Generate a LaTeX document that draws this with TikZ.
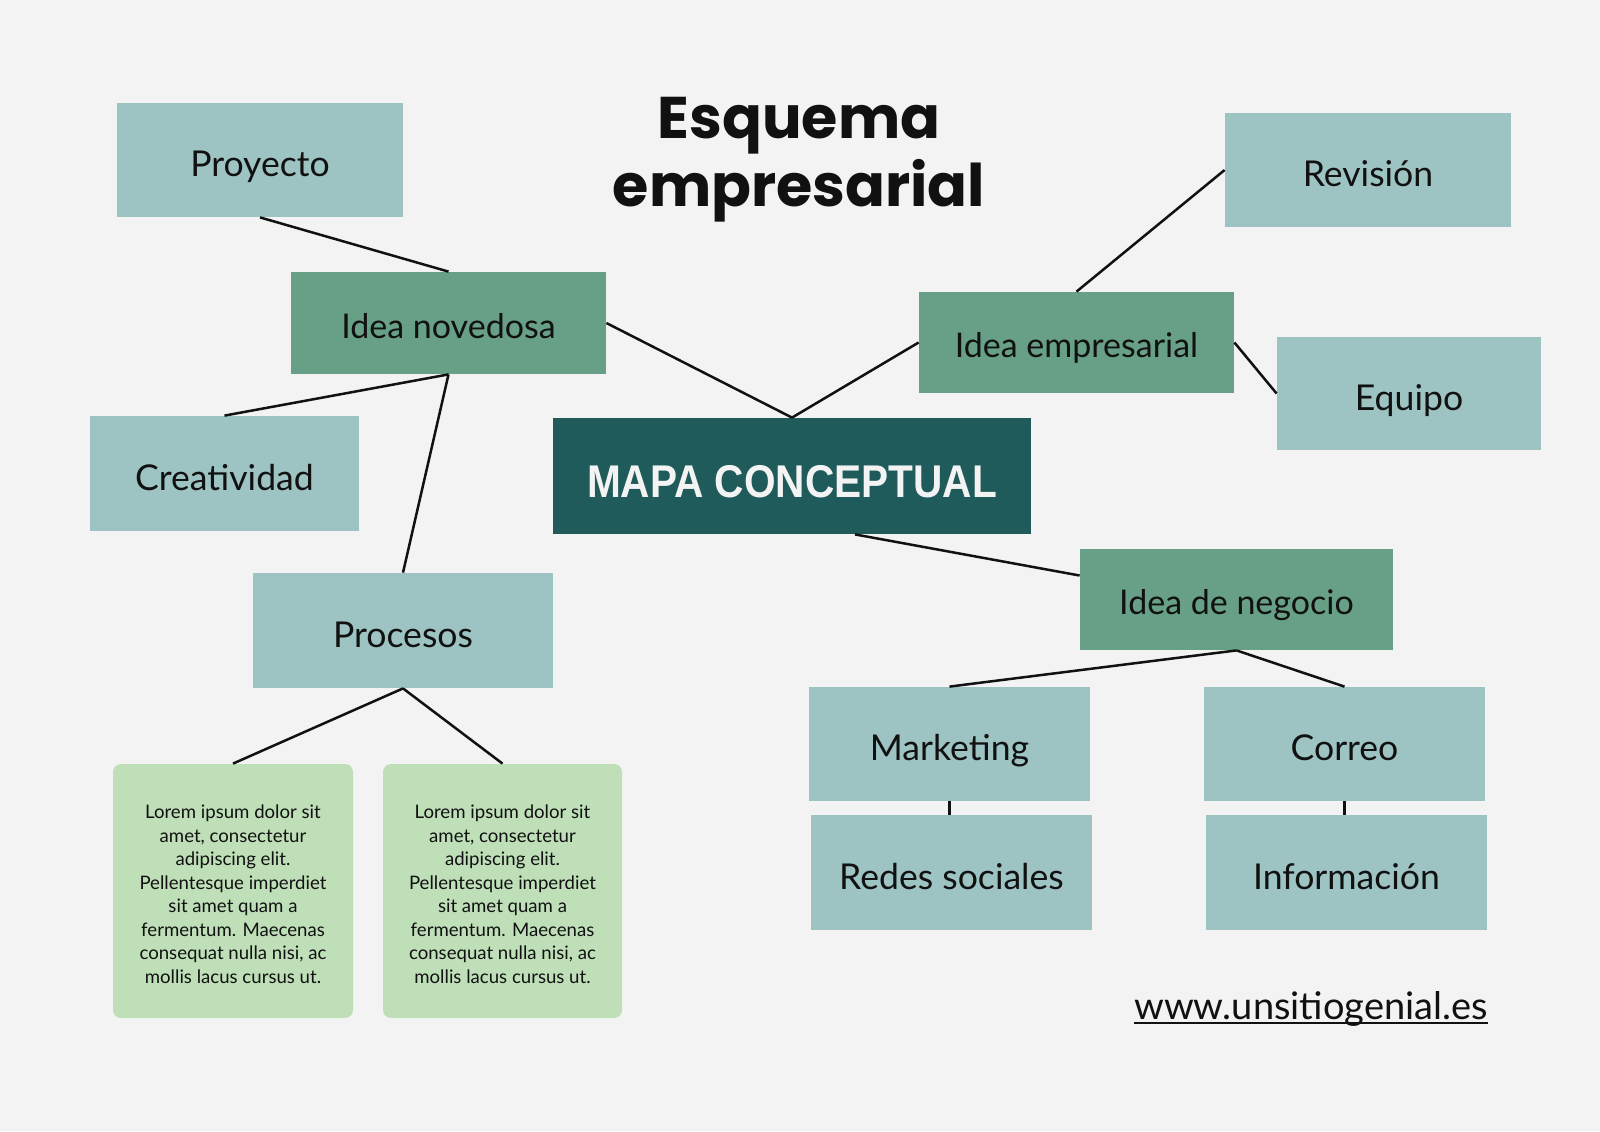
\documentclass[tikz,border=0pt]{standalone}
\usepackage{fontspec}
\usepackage{graphicx}
\setmainfont{Lato}
\newfontfamily\titlefont{Poppins}
\newfontfamily\boldsans{Liberation Sans}
\usetikzlibrary{calc}
\definecolor{bgc}{HTML}{F3F3F3}
\definecolor{lightteal}{HTML}{9DC4C3}
\definecolor{midgreen}{HTML}{67A086}
\definecolor{darkteal}{HTML}{205B5B}
\definecolor{loremgreen}{HTML}{BEDFB8}
\definecolor{ink}{HTML}{111111}
% place text so that its cap middle sits #1 below the node centre
\newcommand\capmid[2]{\raisebox{\dimexpr-0.358em-#1\relax}[0pt][0pt]{#2}}
\newcommand\lt[1]{\capmid{2pt}{#1}}
\newcommand\gt[1]{\capmid{1.5pt}{#1}}
\tikzset{
  lb/.style={fill=lightteal, draw=none, text=ink, inner sep=0pt, font=\fontsize{17.8}{20}\selectfont, minimum width=143pt, minimum height=57pt},
  gb/.style={fill=midgreen, draw=none, text=ink, inner sep=0pt, font=\fontsize{17}{19}\selectfont, minimum width=157.5pt, minimum height=51pt},
  lorem/.style={fill=loremgreen, draw=none, text=ink, rounded corners=4pt, inner sep=0pt, align=center, font=\fontsize{9.3}{11.75}\selectfont, minimum width=120pt, minimum height=127pt},
  conn/.style={draw=ink, line width=1.25pt}
}
\begin{document}
\begin{tikzpicture}[x=0.5pt,y=-0.5pt]
\fill[bgc] (0,0) rectangle (1600,1131);
\useasboundingbox (0,0) rectangle (1600,1131);

\node[text=ink, align=center, font=\titlefont\bfseries\fontsize{29.4}{34}\selectfont] (title) at (799,160) {Esquema\\empresarial};

\node[lb] (proyecto) at (260,160) {\lt{Proyecto}};
\node[gb] (novedosa) at (448.5,323) {\gt{Idea novedosa}};
\node[lb, minimum width=134.5pt, minimum height=57.5pt] (creatividad) at (224.5,473.5) {\lt{Creatividad}};
\node[lb, minimum width=150pt, minimum height=57.5pt] (procesos) at (403,630.5) {\lt{Procesos}};
\node[lorem] (lorem1) at (233,891) {\raisebox{-3.8pt}[0pt][0pt]{\parbox[c]{120pt}{\centering Lorem ipsum dolor sit\\amet, consectetur\\adipiscing elit.\\Pellentesque imperdiet\\sit amet quam a\\fermentum. Maecenas\\consequat nulla nisi, ac\\mollis lacus cursus ut.}}};
\node[lorem, minimum width=119.5pt] (lorem2) at (502.5,891) {\raisebox{-3.8pt}[0pt][0pt]{\parbox[c]{119.5pt}{\centering Lorem ipsum dolor sit\\amet, consectetur\\adipiscing elit.\\Pellentesque imperdiet\\sit amet quam a\\fermentum. Maecenas\\consequat nulla nisi, ac\\mollis lacus cursus ut.}}};

\node[fill=darkteal, text=bgc, inner sep=0pt, minimum width=239pt, minimum height=58pt, font=\boldsans\bfseries\fontsize{20.3}{24}\selectfont] (mapa) at (792,476) {\raisebox{-10.5pt}[0pt][0pt]{\scalebox{1}[1.13]{MAPA CONCEPTUAL}}};

\node[gb, minimum height=50.5pt] (empresarial) at (1076.5,342.5) {\gt{Idea empresarial}};
\node[lb] (revision) at (1368,170) {\lt{Revisión}};
\node[lb, minimum width=132pt, minimum height=56.5pt] (equipo) at (1409,393.5) {\lt{Equipo}};
\node[gb, minimum width=156.5pt, minimum height=50.5pt] (negocio) at (1236.5,599.5) {\gt{Idea de negocio}};
\node[lb, minimum width=140.5pt] (marketing) at (949.5,744) {\lt{Marketing}};
\node[lb, minimum width=140.5pt, minimum height=57.5pt] (redes) at (951.5,872.5) {\lt{Redes sociales}};
\node[lb, minimum width=140.5pt] (correo) at (1344.5,744) {\lt{Correo}};
\node[lb, minimum width=140.5pt, minimum height=57.5pt] (informacion) at (1346.5,872.5) {\lt{Información}};

\node[text=ink, inner sep=0pt, anchor=base, font=\fontsize{19}{22}\selectfont] (url) at (1311,1019) {www.unsitiogenial.es};
\coordinate (ulA) at ($(url.base west)+(0,4)$);
\coordinate (ulB) at ($(url.base east)+(0,4)$);
\draw[ink, line width=1pt] (ulA) -- (ulB);

\coordinate (mapaout) at ($(mapa.south)+(63,0)$);
\coordinate (negin) at ($(negocio.west)+(0,-24)$);

\draw[conn] (proyecto.south) -- (novedosa.north);
\draw[conn] (novedosa.south) -- (creatividad.north);
\draw[conn] (novedosa.south) -- (procesos.north);
\draw[conn] (novedosa.east) -- (mapa.north);
\draw[conn] (empresarial.west) -- (mapa.north);
\draw[conn] (empresarial.north) -- (revision.west);
\draw[conn] (empresarial.east) -- (equipo.west);
\draw[conn] (mapaout) -- (negin);
\draw[conn] (negocio.south) -- (marketing.north);
\draw[conn] (negocio.south) -- (correo.north);
\draw[conn] (procesos.south) -- (lorem1.north);
\draw[conn] (procesos.south) -- (lorem2.north);
\draw[conn] (marketing.south) -- (marketing.south |- redes.north);
\draw[conn] (correo.south) -- (correo.south |- informacion.north);
\end{tikzpicture}
\end{document}
